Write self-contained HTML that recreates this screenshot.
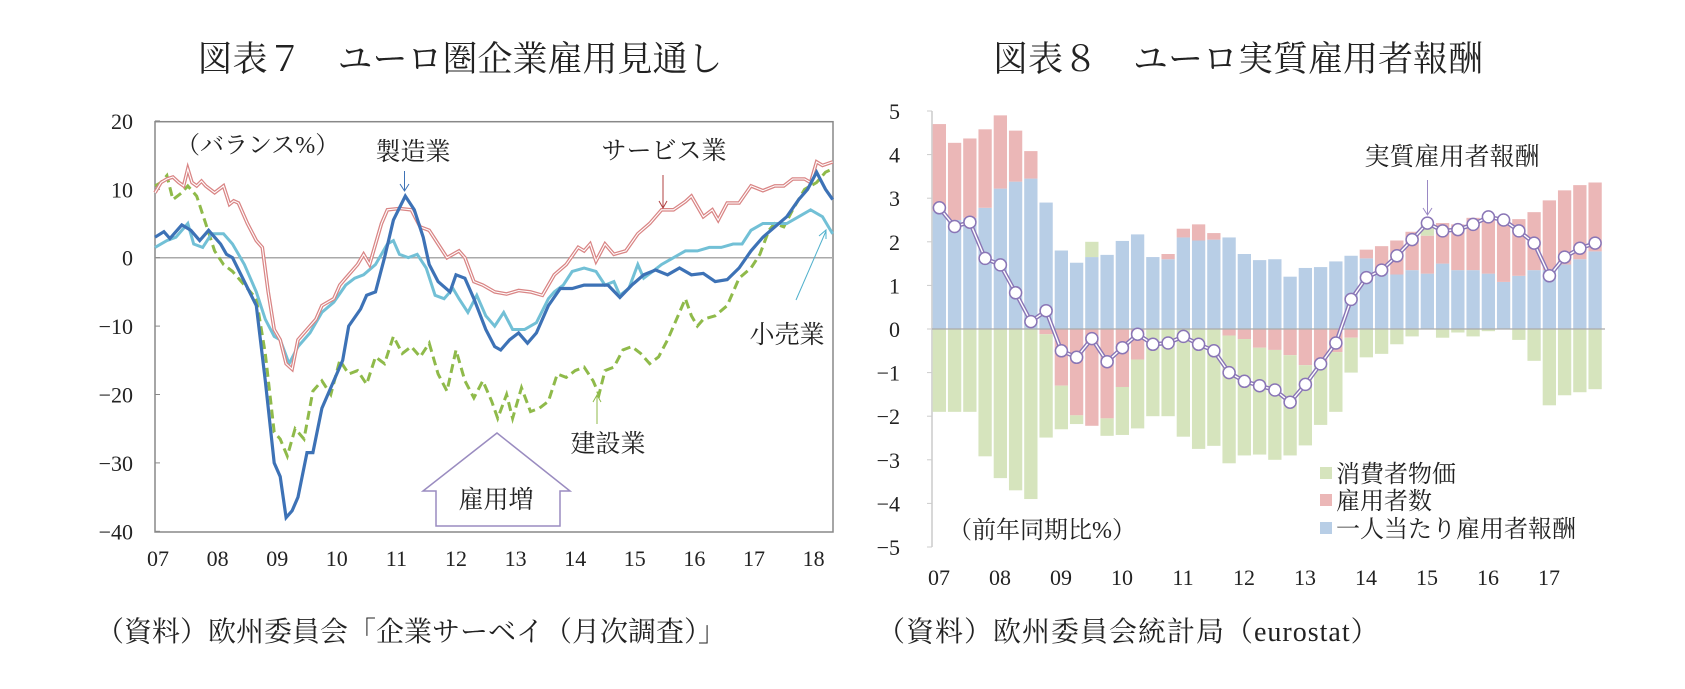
<!DOCTYPE html>
<html><head><meta charset="utf-8">
<style>
html,body{margin:0;padding:0;background:#fff;}
body{width:1685px;height:684px;overflow:hidden;}
svg text{font-family:"Liberation Serif","Noto Serif CJK SC","Noto Sans CJK JP",serif;fill:#222;}
</style></head><body>
<svg id="s" width="1685" height="684" xmlns="http://www.w3.org/2000/svg">
<text x="460" y="71" font-size="35" text-anchor="middle">図表７　ユーロ圏企業雇用見通し</text>
<text x="1238" y="71" font-size="35" text-anchor="middle">図表８　ユーロ実質雇用者報酬</text>
<text x="96" y="641" font-size="28">（資料）欧州委員会「企業サーベイ（月次調査）」</text>
<text x="877" y="641" font-size="28" letter-spacing="1">（資料）欧州委員会統計局（eurostat）</text>
<g id="L"></g>
<g id="R"></g>
</svg>
<script>
var NS="http://www.w3.org/2000/svg";
function el(p,t,a,txt){var e=document.createElementNS(NS,t);for(var k in a)e.setAttribute(k,a[k]);if(txt!==undefined)e.textContent=txt;p.appendChild(e);return e;}
var L=document.getElementById('L'),R=document.getElementById('R');
var x0=155,x1=833,yT=121.7,yB=532;
function lx(t){return 155+(t-2007)*59.6;}
function ly(v){return 257.7-v*6.84;}
el(L,'rect',{x:x0,y:yT,width:x1-x0,height:yB-yT,fill:'none',stroke:'#888','stroke-width':1.5});
el(L,'line',{x1:x0,y1:ly(0),x2:x1,y2:ly(0),stroke:'#aaa','stroke-width':1.5});
for(var v=20;v>=-40;v-=10){
  el(L,'text',{x:133,y:ly(v)+8,'font-size':22,'text-anchor':'end'},v<0?('−'+(-v)):String(v));
  el(L,'line',{x1:x0,y1:ly(v),x2:x0+5,y2:ly(v),stroke:'#888'});
}
for(var yr=7;yr<=18;yr++){
  el(L,'text',{x:lx(2000+yr)+3,y:566,'font-size':22,'text-anchor':'middle'},(yr<10?'0':'')+yr);
}
function pts(arr){return arr.map(function(p){return lx(p[0]).toFixed(1)+','+ly(p[1]).toFixed(1);}).join(' ');}
var serv=[[2007,9.5],[2007.1,11],[2007.2,11.5],[2007.3,11.8],[2007.4,11],[2007.48,10.5],[2007.55,13],[2007.62,11],[2007.7,10.5],[2007.78,11.2],[2007.85,10.5],[2008,9.5],[2008.15,10.5],[2008.25,7.8],[2008.32,8.3],[2008.4,8],[2008.55,5],[2008.7,2.5],[2008.8,1.5],[2008.9,-5],[2009,-10.5],[2009.1,-12],[2009.2,-15.5],[2009.3,-16.3],[2009.4,-12],[2009.5,-11],[2009.7,-9],[2009.8,-7],[2009.9,-6.5],[2010,-6],[2010.1,-4],[2010.2,-3],[2010.4,-1],[2010.5,0.5],[2010.6,-1],[2010.8,5],[2010.9,7],[2011.1,7.2],[2011.3,7],[2011.45,4.5],[2011.6,4],[2011.75,2],[2011.9,0],[2012.1,1],[2012.2,0],[2012.35,-3.5],[2012.5,-4],[2012.7,-5],[2012.9,-5.3],[2013.1,-4.8],[2013.3,-5],[2013.5,-5.5],[2013.7,-2.5],[2013.9,-1],[2014.1,1.5],[2014.2,1],[2014.3,2],[2014.4,-0.5],[2014.55,2],[2014.7,0.5],[2014.9,1],[2015.1,3.5],[2015.3,5],[2015.5,7],[2015.7,7],[2015.9,8.2],[2016,9],[2016.2,6],[2016.35,7],[2016.45,5.5],[2016.6,8],[2016.8,8],[2017,10.5],[2017.2,9.8],[2017.4,10.5],[2017.55,10.5],[2017.7,11.5],[2017.9,11.5],[2018,11],[2018.1,14],[2018.2,13.5],[2018.37,14]];
var manu=[[2007,3],[2007.15,3.8],[2007.25,2.8],[2007.45,4.8],[2007.6,4],[2007.75,2.5],[2007.9,4],[2008,3],[2008.1,2],[2008.2,0.5],[2008.3,0],[2008.5,-3.5],[2008.7,-7],[2008.85,-18],[2009,-30],[2009.1,-32],[2009.2,-38],[2009.3,-37],[2009.4,-35],[2009.55,-28.5],[2009.65,-28.5],[2009.8,-22],[2010,-18],[2010.15,-15],[2010.25,-10],[2010.45,-7.5],[2010.55,-5.5],[2010.7,-5],[2010.85,0],[2011,5.5],[2011.2,9],[2011.35,7],[2011.5,3],[2011.6,-1],[2011.75,-3.5],[2011.95,-5],[2012.05,-2.5],[2012.2,-3],[2012.35,-6],[2012.55,-10.5],[2012.7,-13],[2012.8,-13.5],[2012.95,-12],[2013.1,-11],[2013.25,-12.5],[2013.4,-11],[2013.6,-7],[2013.8,-4.5],[2014,-4.5],[2014.2,-4],[2014.4,-4],[2014.6,-4],[2014.8,-5.8],[2015,-4],[2015.2,-2.5],[2015.4,-1.8],[2015.6,-2.5],[2015.8,-1.5],[2016,-2.5],[2016.2,-2.3],[2016.4,-3.5],[2016.6,-3.2],[2016.8,-1.5],[2017,1],[2017.2,3],[2017.4,4.5],[2017.6,6],[2017.8,8.5],[2017.95,10],[2018.1,12.5],[2018.25,10],[2018.37,8.5]];
var ret=[[2007,1.5],[2007.2,2.5],[2007.35,3],[2007.55,5],[2007.65,2],[2007.8,1.5],[2007.95,3.5],[2008.15,3.5],[2008.3,2],[2008.5,-1],[2008.7,-5],[2008.85,-9],[2009,-11.5],[2009.1,-12],[2009.25,-15.5],[2009.4,-13],[2009.6,-11],[2009.8,-8],[2010,-6.5],[2010.2,-4],[2010.35,-3],[2010.5,-2.5],[2010.7,-1],[2010.9,2],[2011,2.5],[2011.1,0.5],[2011.25,0],[2011.4,0.5],[2011.55,-1.5],[2011.7,-5.5],[2011.85,-6],[2012,-4.5],[2012.1,-6],[2012.25,-8],[2012.4,-5.5],[2012.55,-8.5],[2012.7,-10],[2012.85,-8],[2013,-10.5],[2013.2,-10.5],[2013.4,-9.5],[2013.6,-6],[2013.7,-5],[2013.85,-4],[2014,-2],[2014.2,-1.5],[2014.4,-2],[2014.55,-4],[2014.7,-3.5],[2014.8,-5.5],[2014.95,-4.5],[2015.1,-1],[2015.2,-3],[2015.35,-2],[2015.5,-1],[2015.7,0],[2015.9,1],[2016.1,1],[2016.3,1.5],[2016.5,1.5],[2016.7,2],[2016.85,2],[2017,4],[2017.2,5],[2017.4,5],[2017.6,5],[2017.8,6],[2018,7],[2018.2,6],[2018.3,4.5],[2018.37,3.5]];
var cons=[[2007,10.5],[2007.1,11],[2007.2,12],[2007.3,8.5],[2007.45,9.5],[2007.55,10.5],[2007.7,9],[2007.85,5],[2008,1],[2008.15,-1],[2008.3,-2],[2008.5,-4],[2008.7,-6],[2008.85,-14],[2009,-25.5],[2009.1,-26.5],[2009.22,-29],[2009.35,-25],[2009.5,-26.5],[2009.65,-19.5],[2009.8,-18],[2009.95,-20],[2010.1,-15],[2010.25,-17],[2010.4,-16.5],[2010.55,-18.5],[2010.7,-14.5],[2010.85,-15.5],[2011,-11.5],[2011.15,-14],[2011.3,-13],[2011.45,-14.5],[2011.6,-12.5],[2011.75,-17],[2011.9,-19.5],[2012.05,-13.5],[2012.2,-18],[2012.35,-20.5],[2012.5,-18],[2012.65,-21],[2012.75,-23.5],[2012.9,-20],[2013,-23.5],[2013.15,-19],[2013.3,-22.5],[2013.45,-22],[2013.6,-21],[2013.75,-17],[2013.9,-17.5],[2014.05,-16.5],[2014.2,-16],[2014.35,-18],[2014.45,-20],[2014.55,-16.5],[2014.7,-16],[2014.85,-13.5],[2015,-13],[2015.15,-14],[2015.3,-15.5],[2015.45,-14.5],[2015.6,-12],[2015.8,-8],[2015.9,-6],[2016,-8.5],[2016.1,-10],[2016.2,-9],[2016.4,-8.5],[2016.6,-7],[2016.8,-3],[2017,-1.5],[2017.15,0.5],[2017.3,4],[2017.4,5],[2017.55,4.5],[2017.7,7],[2017.9,10],[2018.1,11],[2018.25,12.5],[2018.37,13]];
el(L,'polyline',{points:pts(cons),fill:'none',stroke:'#8fba4a','stroke-width':3,'stroke-dasharray':'9,5'});
el(L,'polyline',{points:pts(ret),fill:'none',stroke:'#72c0d6','stroke-width':3});
el(L,'polyline',{points:pts(serv),fill:'none',stroke:'#d98585','stroke-width':3.6});
el(L,'polyline',{points:pts(serv),fill:'none',stroke:'#fff','stroke-width':1.1});
el(L,'polyline',{points:pts(manu),fill:'none',stroke:'#3d72b6','stroke-width':3.2});
el(L,'text',{x:176,y:153,'font-size':24},'（バランス%）');
el(L,'text',{x:413,y:160,'font-size':25,'text-anchor':'middle'},'製造業');
el(L,'line',{x1:404.5,y1:171,x2:404.5,y2:190,stroke:'#3d72b6'});
el(L,'path',{d:'M400,184 L404.5,191 L409,184',fill:'none',stroke:'#3d72b6'});
el(L,'text',{x:664,y:159,'font-size':25,'text-anchor':'middle'},'サービス業');
el(L,'line',{x1:663,y1:175,x2:663,y2:207,stroke:'#b04040'});
el(L,'path',{d:'M659,201 L663,208 L667,201',fill:'none',stroke:'#b04040'});
el(L,'text',{x:787,y:343,'font-size':25,'text-anchor':'middle'},'小売業');
el(L,'line',{x1:796,y1:300,x2:826,y2:231,stroke:'#4fb0cc'});
el(L,'path',{d:'M819,236 L826,230 L826,239',fill:'none',stroke:'#4fb0cc'});
el(L,'text',{x:608,y:452,'font-size':25,'text-anchor':'middle'},'建設業');
el(L,'line',{x1:597,y1:424,x2:597,y2:396,stroke:'#8fba4a'});
el(L,'path',{d:'M593,402 L597,395 L601,402',fill:'none',stroke:'#8fba4a'});
el(L,'path',{d:'M497,433 L570,491 L560,491 L560,526 L436,526 L436,491 L423,491 Z',fill:'#fff',stroke:'#9a8cc0','stroke-width':1.5});
el(L,'text',{x:496,y:508,'font-size':25,'text-anchor':'middle'},'雇用増');
var ax=932,y0=329,U=43.6;
function ry(v){return y0-v*U;}
el(R,'line',{x1:ax,y1:ry(5),x2:ax,y2:ry(-5),stroke:'#ccc','stroke-width':1.5});
for(var v=5;v>=-5;v--){
  el(R,'text',{x:900,y:ry(v)+8,'font-size':22,'text-anchor':'end'},v<0?('−'+(-v)):String(v));
  el(R,'line',{x1:ax-5,y1:ry(v),x2:ax,y2:ry(v),stroke:'#ccc'});
}
for(var yr=7;yr<=17;yr++){
  el(R,'text',{x:ax+7+(yr-7)*61,y:585,'font-size':22,'text-anchor':'middle'},(yr<10?'0':'')+yr);
}
var D=[[2.7,2.0,-1.9,2.78],[2.5,1.77,-1.9,2.35],[2.55,1.82,-1.9,2.45],[2.78,1.8,-2.92,1.62],[3.22,1.68,-3.42,1.47],[3.38,1.17,-3.7,0.83],[3.45,0.63,-3.9,0.17],[2.9,-0.12,-2.37,0.42],
[1.8,-1.3,-1.0,-0.5],[1.52,-1.98,-0.2,-0.65],[1.65,-2.22,0.35,-0.22],[1.7,-2.05,-0.4,-0.75],[2.02,-1.33,-1.1,-0.43],[2.17,-0.7,-1.58,-0.12],[1.65,0,-2.0,-0.35],[1.6,0.12,-2.0,-0.32],
[2.1,0.2,-2.47,-0.17],[2.03,0.37,-2.75,-0.35],[2.05,0.15,-2.68,-0.5],[2.1,-0.15,-2.93,-1.0],[1.72,-0.23,-2.67,-1.2],[1.58,-0.43,-2.45,-1.3],[1.6,-0.48,-2.52,-1.4],[1.2,-0.6,-2.3,-1.68],
[1.4,-0.83,-1.84,-1.27],[1.42,-0.75,-1.45,-0.8],[1.55,-0.53,-1.37,-0.32],[1.68,-0.2,-0.8,0.68],[1.62,0.2,-0.65,1.18],[1.3,0.6,-0.57,1.35],[1.25,0.78,-0.35,1.68],[1.35,0.88,-0.17,2.05],
[1.27,0.87,0.25,2.43],[1.5,0.93,-0.2,2.25],[1.35,1.05,-0.08,2.28],[1.35,1.2,-0.17,2.4],[1.27,1.3,-0.05,2.57],[1.08,1.45,0,2.5],[1.22,1.3,-0.25,2.25],[1.35,1.33,-0.73,1.97],
[1.35,1.6,-1.75,1.22],[1.48,1.7,-1.52,1.65],[1.6,1.7,-1.45,1.85],[1.78,1.58,-1.38,1.97]];
var CB='#b8cee6',CR='#ebb7b7',CG='#d6e4bd';
function rect(x,a,b,c){var t=Math.max(a,b),bt=Math.min(a,b);if(t-bt<=0)return;el(R,'rect',{x:x,y:ry(t),width:13.3,height:(t-bt)*U,fill:c});}
var lp=[];
D.forEach(function(d,i){
  var x=932.7+i*15.25;
  var pos=0,neg=0;
  rect(x,0,d[0],CB);pos=d[0];
  if(d[1]>0){rect(x,pos,pos+d[1],CR);pos+=d[1];}else{rect(x,0,d[1],CR);neg=d[1];}
  if(d[2]>0){rect(x,pos,pos+d[2],CG);}else{rect(x,neg,neg+d[2],CG);}
  lp.push((x+6.65).toFixed(1)+','+ry(d[3]).toFixed(1));
});
el(R,'line',{x1:ax,y1:y0,x2:1605,y2:y0,stroke:'#aaa','stroke-width':1.2});
el(R,'polyline',{points:lp.join(' '),fill:'none',stroke:'#8a76b6','stroke-width':4.2});
el(R,'polyline',{points:lp.join(' '),fill:'none',stroke:'#fff','stroke-width':1.4});
lp.forEach(function(p){var q=p.split(',');el(R,'circle',{cx:q[0],cy:q[1],r:6,fill:'#fff',stroke:'#8a76b6','stroke-width':1.5});});
el(R,'text',{x:1452,y:165,'font-size':25,'text-anchor':'middle'},'実質雇用者報酬');
el(R,'line',{x1:1427.5,y1:180,x2:1427.5,y2:215,stroke:'#9a88c4'});
el(R,'path',{d:'M1423,208 L1427.5,215 L1432,208',fill:'none',stroke:'#9a88c4'});
el(R,'rect',{x:1320,y:467,width:12,height:12,fill:CG});
el(R,'rect',{x:1320,y:494,width:12,height:12,fill:CR});
el(R,'rect',{x:1320,y:522,width:12,height:12,fill:CB});
el(R,'text',{x:1336,y:482,'font-size':24},'消費者物価');
el(R,'text',{x:1336,y:509,'font-size':24},'雇用者数');
el(R,'text',{x:1336,y:537,'font-size':24},'一人当たり雇用者報酬');
el(R,'text',{x:948,y:538,'font-size':24},'（前年同期比%）');
</script>
</body></html>
